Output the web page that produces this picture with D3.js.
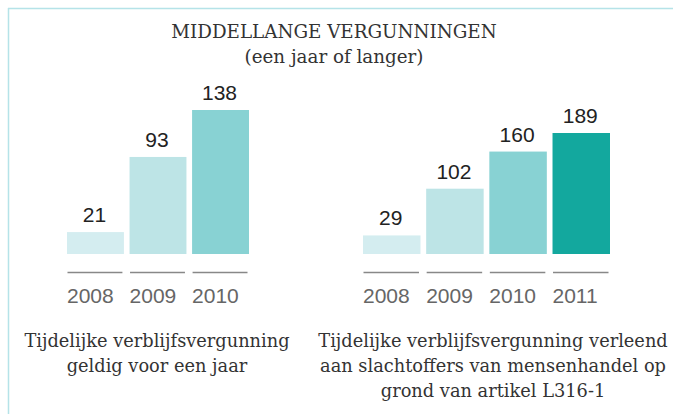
<!DOCTYPE html>
<html>
<head>
<meta charset="utf-8">
<script src="https://cdn.jsdelivr.net/npm/d3@7"></script>
<style>
  html, body { margin: 0; padding: 0; background: #fff; }
  svg { display: block; }
</style>
</head>
<body>
<div id="chart"></div>
<script>
// data
var leftYears = ["2008", "2009", "2010"];
var leftValues = [21, 93, 138];
var rightYears = ["2008", "2009", "2010", "2011"];
var rightValues = [29, 102, 160, 189];
var yearColors = { "2008": "#d4edf0", "2009": "#bde4e6", "2010": "#88d2d3", "2011": "#13a89e" };
var titleLines = ["MIDDELLANGE VERGUNNINGEN", "(een jaar of langer)"];
var leftCaption = ["Tijdelijke verblijfsvergunning", "geldig voor een jaar"];
var rightCaption = ["Tijdelijke verblijfsvergunning verleend", "aan slachtoffers van mensenhandel op", "grond van artikel L316-1"];

var width = 673, height = 414;
var serif = "'DejaVu Serif', 'Liberation Serif', serif";
var sans = "'Liberation Sans', Arial, Helvetica, sans-serif";

var svg = d3.select("#chart").append("svg")
    .attr("width", width)
    .attr("height", height);

// light frame, top and left only
svg.append("line")
    .attr("x1", 8).attr("y1", 8.5).attr("x2", width).attr("y2", 8.5)
    .attr("stroke", "#b5e3e8").attr("stroke-width", 1.5);
svg.append("line")
    .attr("x1", 8.5).attr("y1", 8).attr("x2", 8.5).attr("y2", height)
    .attr("stroke", "#b5e3e8").attr("stroke-width", 1.5);

// title
svg.append("g").selectAll("text")
    .data(titleLines)
    .enter().append("text")
    .attr("x", 334)
    .attr("y", (d, i) => 38 + i * 25)
    .attr("text-anchor", "middle")
    .attr("font-family", serif)
    .attr("font-size", 18.3)
    .attr("fill", "#333")
    .text(d => d);

var baseline = 254;

function drawPanel(years, values, x0, x1, topY, caption, capX) {
    var g = svg.append("g");

    var x = d3.scaleBand()
        .domain(years)
        .range([x0, x1])
        .paddingInner(0.09)
        .paddingOuter(0);

    var y = d3.scaleLinear()
        .domain([0, d3.max(values)])
        .range([baseline, topY]);

    var rows = years.map((yr, i) => ({ year: yr, value: values[i] }));

    g.selectAll(".bar")
        .data(rows)
        .enter().append("rect")
        .attr("class", "bar")
        .attr("x", d => x(d.year))
        .attr("y", d => y(d.value))
        .attr("width", x.bandwidth())
        .attr("height", d => y(0) - y(d.value))
        .attr("fill", d => yearColors[d.year]);

    // value labels above bars
    g.selectAll(".val")
        .data(rows)
        .enter().append("text")
        .attr("class", "val")
        .attr("x", d => x(d.year) + x.bandwidth() / 2 - 1)
        .attr("y", d => y(d.value) - 10)
        .attr("text-anchor", "middle")
        .attr("font-family", sans)
        .attr("font-size", 21)
        .attr("fill", "#222")
        .text(d => d.value);

    // small rule under each bar
    g.selectAll(".rule")
        .data(rows)
        .enter().append("line")
        .attr("class", "rule")
        .attr("x1", d => x(d.year) + 0.5)
        .attr("x2", d => x(d.year) + x.bandwidth() - 1.5)
        .attr("y1", 272.5).attr("y2", 272.5)
        .attr("stroke", "#888")
        .attr("stroke-width", 1.3);

    // year labels
    g.selectAll(".yr")
        .data(rows)
        .enter().append("text")
        .attr("class", "yr")
        .attr("x", d => x(d.year))
        .attr("y", 303)
        .attr("font-family", sans)
        .attr("font-size", 21)
        .attr("fill", "#666")
        .text(d => d.year);

    // caption
    g.selectAll(".cap")
        .data(caption)
        .enter().append("text")
        .attr("class", "cap")
        .attr("x", capX)
        .attr("y", (d, i) => 347 + i * 25)
        .attr("text-anchor", "middle")
        .attr("font-family", serif)
        .attr("font-size", 17.8)
        .attr("fill", "#333")
        .text(d => d);
}

drawPanel(leftYears, leftValues, 67, 249, 110, leftCaption, 157);
drawPanel(rightYears, rightValues, 363, 610, 133, rightCaption, 493);
</script>
</body>
</html>
